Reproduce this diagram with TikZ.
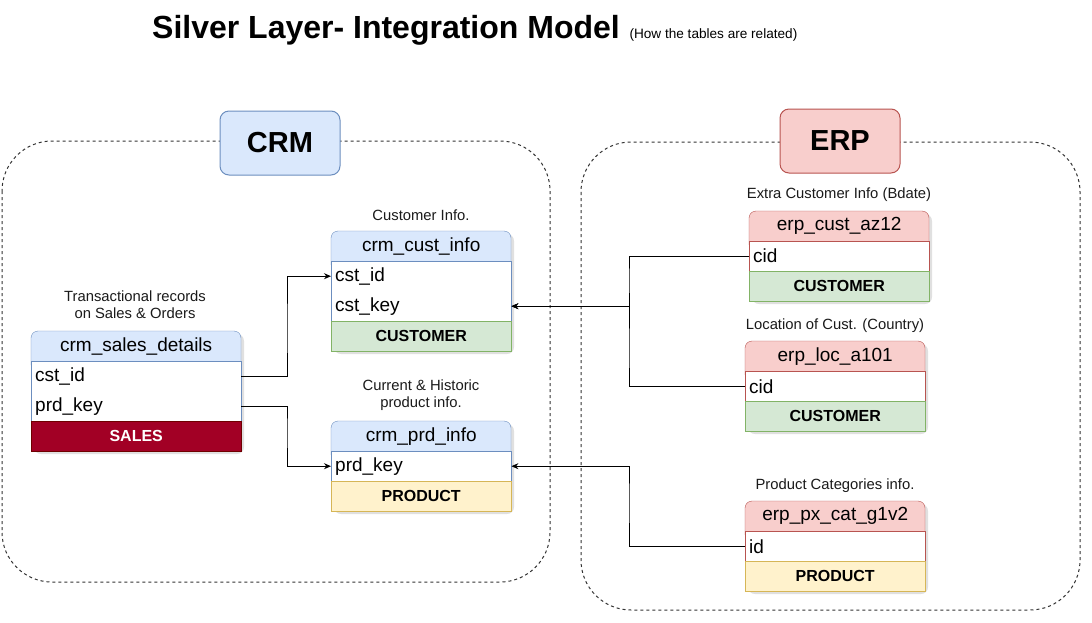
\documentclass[tikz,border=0pt]{standalone}
\usepackage{fontspec}
\setmainfont{Liberation Sans}
\usetikzlibrary{arrows.meta}
\definecolor{crmfill}{HTML}{DAE8FC}
\definecolor{crmline}{HTML}{6C8EBF}
\definecolor{erpfill}{HTML}{F8CECC}
\definecolor{erpline}{HTML}{B85450}
\definecolor{gfill}{HTML}{D5E8D4}
\definecolor{gline}{HTML}{82B366}
\definecolor{yfill}{HTML}{FFF2CC}
\definecolor{yline}{HTML}{D6B656}
\definecolor{sfill}{HTML}{A20025}
\definecolor{sline}{HTML}{6F0000}
\definecolor{contc}{HTML}{333333}
\definecolor{notec}{HTML}{1A1A1A}
\newcommand\tbg[6]{%
  \fill[black,opacity=0.12,rounded corners=7pt] ({#1+3},{#2+3}) rectangle ({#1+#3+3},{#2+60+30*#4+3});
  \path[#5,rounded corners=7pt] (#1,#2) rectangle ({#1+#3},{#2+40});
  \path[#6] (#1,{#2+30}) rectangle ({#1+#3},{#2+30+30*#4});
}
\begin{document}
\begin{tikzpicture}[x=1pt,y=-1pt,
  hdr/.style={anchor=north west, minimum height=30pt, inner sep=0pt, font=\fontsize{19}{22}\selectfont},
  fld/.style={anchor=north west, minimum height=30pt, text width=#1, inner xsep=4pt, inner ysep=0pt, align=left, font=\fontsize{19}{22}\selectfont},
  foot/.style={anchor=north west, minimum height=30pt, inner sep=0pt, font=\fontsize{16}{19}\selectfont\bfseries},
  hbgcrm/.style={fill=crmfill, draw=crmline},
  hbgerp/.style={fill=erpfill, draw=erpline},
  bodycrm/.style={fill=white, draw=crmline},
  bodyerp/.style={fill=white, draw=erpline},
  fgreen/.style={foot, fill=gfill, draw=gline},
  fyellow/.style={foot, fill=yfill, draw=yline},
  fsales/.style={foot, fill=sfill, draw=sline, text=white},
  note/.style={font=\fontsize{14.8}{17}\selectfont, text=notec, align=center},
  conn/.style={draw=black, line width=1pt, -{Stealth[length=7pt,width=6pt]}},
  container/.style={draw=contc, dash pattern=on 3pt off 3pt, line width=1pt, rounded corners=50pt},
  grp/.style={minimum width=120pt, minimum height=64pt, rounded corners=9pt, line width=1pt, font=\fontsize{29}{32}\selectfont\bfseries},
]
\useasboundingbox[fill=white] (0,0) rectangle (1092,622);

% title
\node[font=\fontsize{32}{36}\selectfont\bfseries] (title) at (386,30) {Silver Layer- Integration Model};
\node[font=\fontsize{13.6}{15}\selectfont, anchor=west] (subtitle) at (626,35) {(How the tables are related)};

% containers
\draw[container] (2,141) rectangle (550,582);
\draw[container] (581,142) rectangle (1080,610);
\node[grp, fill=crmfill, draw=crmline] (crm) at (280,143) {CRM};
\node[grp, fill=erpfill, draw=erpline] (erp) at (840,141) {ERP};

% crm_sales_details
\tbg{31}{331}{210}{2}{hbgcrm}{bodycrm}
\node[hdr, minimum width=210pt] (sd) at (31,331) {crm\_sales\_details};
\node[fld=202pt] (sd-cst) at (31,361) {cst\_id};
\node[fld=202pt] (sd-prd) at (31,391) {prd\_key};
\node[fsales, minimum width=210pt] (sd-f) at (31,421) {SALES};
\node[note] (sd-n) at (135,305) {Transactional records\\on Sales \& Orders};

% crm_cust_info
\tbg{331}{231}{180}{2}{hbgcrm}{bodycrm}
\node[hdr, minimum width=180pt] (cci) at (331,231) {crm\_cust\_info};
\node[fld=172pt] (cci-id) at (331,261) {cst\_id};
\node[fld=172pt] (cci-key) at (331,291) {cst\_key};
\node[fgreen, minimum width=180pt] (cci-f) at (331,321) {CUSTOMER};
\node[note] (cci-n) at (421,215) {Customer Info.};

% crm_prd_info
\tbg{331}{421}{180}{1}{hbgcrm}{bodycrm}
\node[hdr, minimum width=180pt] (cpi) at (331,421) {crm\_prd\_info};
\node[fld=172pt] (cpi-key) at (331,451) {prd\_key};
\node[fyellow, minimum width=180pt] (cpi-f) at (331,481) {PRODUCT};
\node[note] (cpi-n) at (421,395) {Current \& Historic\\product info.};

% erp_cust_az12
\tbg{749}{211}{180}{1}{hbgerp}{bodyerp}
\node[hdr, minimum width=180pt] (eca) at (749,211) {erp\_cust\_az12};
\node[fld=172pt] (eca-cid) at (749,241) {cid};
\node[fgreen, minimum width=180pt] (eca-f) at (749,271) {CUSTOMER};
\node[note] (eca-n) at (839,195) {Extra Customer Info (Bdate)};

% erp_loc_a101
\tbg{745}{341}{180}{1}{hbgerp}{bodyerp}
\node[hdr, minimum width=180pt] (elo) at (745,341) {erp\_loc\_a101};
\node[fld=172pt] (elo-cid) at (745,371) {cid};
\node[fgreen, minimum width=180pt] (elo-f) at (745,401) {CUSTOMER};
\node[note] (elo-n) at (835,326) {Location of Cust. (Country)};

% erp_px_cat_g1v2
\tbg{745}{501}{180}{1}{hbgerp}{bodyerp}
\node[hdr, minimum width=180pt] (epc) at (745,501) {erp\_px\_cat\_g1v2};
\node[fld=172pt] (epc-id) at (745,531) {id};
\node[fyellow, minimum width=180pt] (epc-f) at (745,561) {PRODUCT};
\node[note] (epc-n) at (835,486) {Product Categories info.};

% connectors
\coordinate (j1) at (287,330);
\coordinate (j1b) at (287,430);
\coordinate (j2) at (629,280);
\coordinate (j2b) at (629,350);
\coordinate (j3) at (629,500);
\draw[conn] (sd-cst.east) -| (j1) |- (cci-id.west);
\draw[conn] (sd-prd.east) -| (j1b) |- (cpi-key.west);
\draw[conn] (eca-cid.west) -| (j2) |- (cci-key.east);
\draw[conn] (elo-cid.west) -| (j2b) |- (cci-key.east);
\draw[conn] (epc-id.west) -| (j3) |- (cpi-key.east);
\end{tikzpicture}
\end{document}
